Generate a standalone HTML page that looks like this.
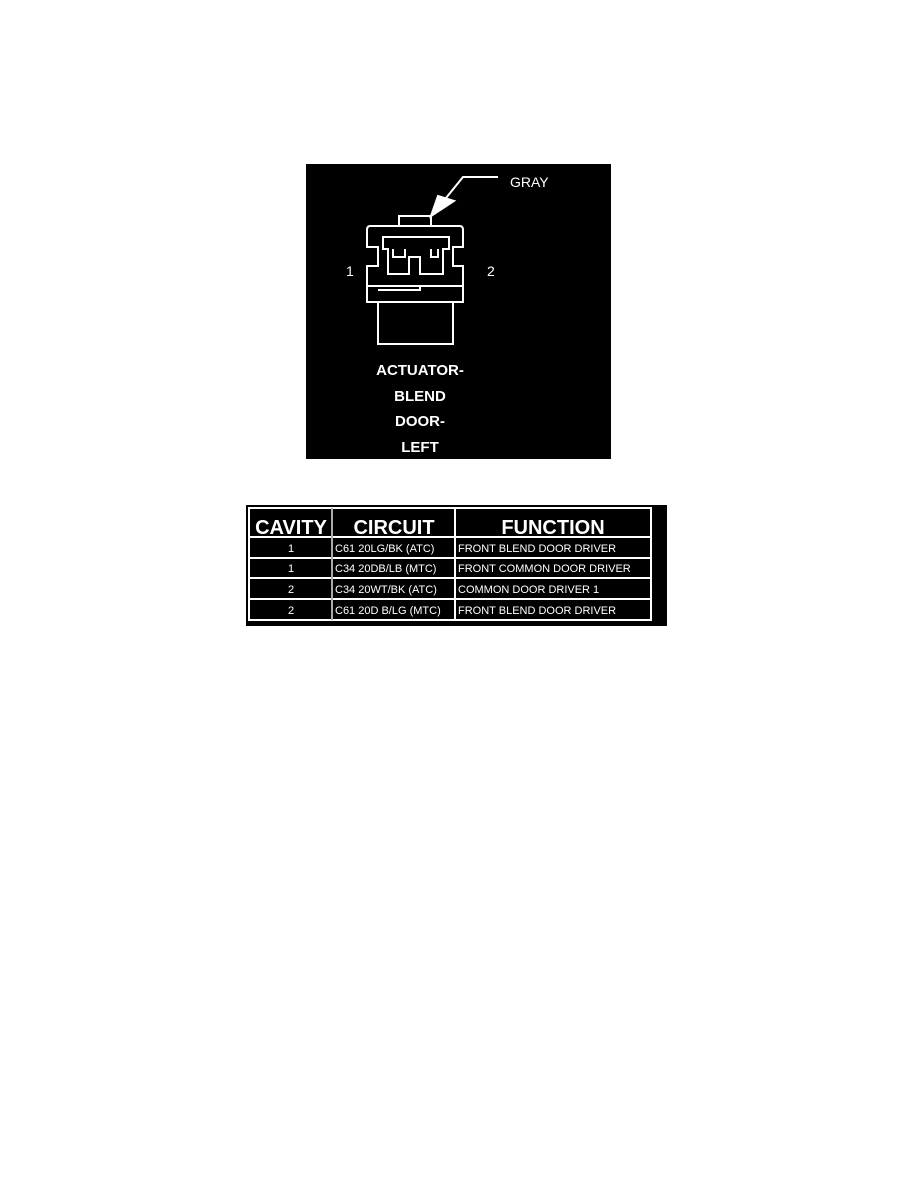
<!DOCTYPE html>
<html><head><style>
html,body{margin:0;padding:0;background:#fff;width:918px;height:1188px;overflow:hidden}
svg{position:absolute;left:0;top:0}
text{font-family:"Liberation Sans",Arial,sans-serif;fill:#fff}
</style></head><body>
<svg width="918" height="1188" viewBox="0 0 918 1188">
<rect x="306" y="164" width="305" height="295" fill="#000"/>
<g fill="none" stroke="#fff" stroke-width="2">
<polyline points="446,198 463,177 498,177"/>
<polygon points="431,216 438,196 454,201" fill="#fff"/>
<rect x="399" y="216" width="32" height="10"/>
<path d="M370,226 H460 Q463,226 463,230 V247 H453 V266 H463 V286 H367 V266 H378 V247 H367 V230 Q367,226 370,226 Z"/>
<path d="M383,237 H449 V249 H443 V274 H420 V257 H409 V274 H388 V249 H383 Z"/>
<path d="M393,249 V257 H405 V249 M431,249 V257 H438 V249"/>
<rect x="367" y="286" width="96" height="16"/>
<path d="M378,290 H420 V286"/>
<rect x="378" y="302" width="75" height="42"/>
</g>
<text x="346" y="276" font-size="14">1</text>
<text x="487" y="276" font-size="14">2</text>
<text x="420" y="375" font-size="15" font-weight="bold" text-anchor="middle">ACTUATOR-</text>
<text x="420" y="401" font-size="15" font-weight="bold" text-anchor="middle">BLEND</text>
<text x="420" y="426" font-size="15" font-weight="bold" text-anchor="middle">DOOR-</text>
<text x="420" y="452" font-size="15" font-weight="bold" text-anchor="middle">LEFT</text>
<text x="510" y="187" font-size="14">GRAY</text>

<rect x="246" y="505" width="421" height="121" fill="#000"/>
<g fill="none" stroke="#fff" stroke-width="2">
<rect x="249" y="508" width="402" height="112"/>
<line x1="249" y1="537" x2="651" y2="537"/>
<line x1="249" y1="558" x2="651" y2="558"/>
<line x1="249" y1="578" x2="651" y2="578"/>
<line x1="249" y1="599" x2="651" y2="599"/>
<line x1="332" y1="508" x2="332" y2="620" stroke="#aaa"/>
<line x1="455" y1="508" x2="455" y2="620"/>
</g>
<g font-size="20" font-weight="bold" text-anchor="middle">
<text x="291" y="534">CAVITY</text>
<text x="394" y="534">CIRCUIT</text>
<text x="553" y="534">FUNCTION</text>
</g>
<g font-size="11">
<text x="291" y="552" text-anchor="middle">1</text>
<text x="291" y="572" text-anchor="middle">1</text>
<text x="291" y="593" text-anchor="middle">2</text>
<text x="291" y="614" text-anchor="middle">2</text>
<text x="335" y="552">C61 20LG/BK (ATC)</text>
<text x="335" y="572">C34 20DB/LB (MTC)</text>
<text x="335" y="593">C34 20WT/BK (ATC)</text>
<text x="335" y="614">C61 20D B/LG (MTC)</text>
<text x="458" y="552">FRONT BLEND DOOR DRIVER</text>
<text x="458" y="572">FRONT COMMON DOOR DRIVER</text>
<text x="458" y="593">COMMON DOOR DRIVER 1</text>
<text x="458" y="614">FRONT BLEND DOOR DRIVER</text>
</g>
</svg>
</body></html>
